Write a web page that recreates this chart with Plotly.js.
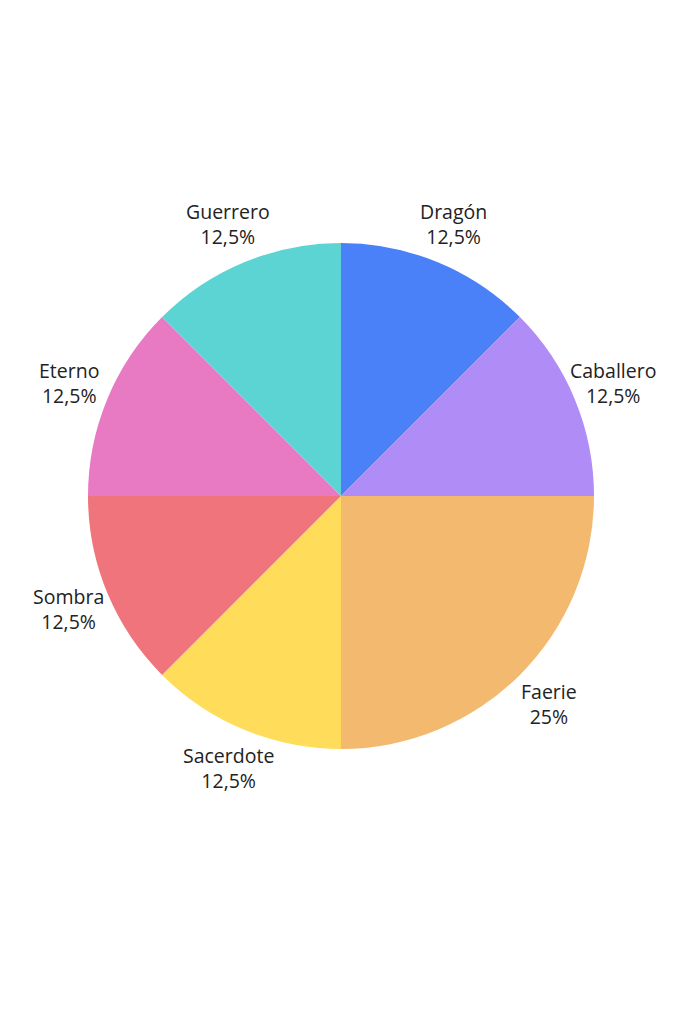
<!DOCTYPE html>
<html>
<head>
<meta charset="utf-8">
<script src="https://cdn.plot.ly/plotly-3.0.1.min.js"></script>
<style>html,body{margin:0;padding:0;background:#fff;}#chart{width:682px;height:1024px;}</style>
</head>
<body>
<div id="chart"></div>
<script>
const labels = ["Dragón", "Caballero", "Faerie", "Sacerdote", "Sombra", "Eterno", "Guerrero"];
const values = [1, 1, 2, 1, 1, 1, 1];
const colors = ["#4a80f8", "#b08cf6", "#f3b96e", "#ffdd5a", "#ef747b", "#e879c3", "#5cd4d4"];

const W = 682, H = 1024;
const margin = {l: 88, r: 88, t: 100, b: 132};
const plotW = W - margin.l - margin.r;
const plotH = H - margin.t - margin.b;
const R = Math.min(plotW, plotH) / 2;
const labelDist = R * 1.165;

const total = values.reduce((a, b) => a + b, 0);
const annotations = [];
let cum = 0;
values.forEach((v, i) => {
  const mid = (cum + v / 2) / total * 2 * Math.PI; // clockwise from 12 o'clock
  cum += v;
  const dx = labelDist * Math.sin(mid) / plotW;
  const dy = labelDist * Math.cos(mid) / plotH;
  const pct = Math.round(v / total * 1000) / 10;
  annotations.push({
    xref: "paper", yref: "paper",
    x: 0.5 + dx, y: 0.5 + dy,
    xanchor: "center", yanchor: "middle",
    showarrow: false,
    text: labels[i] + "<br>" + String(pct).replace(".", ",") + "%",
    font: {family: "Open Sans", size: 19.5, color: "#222"}
  });
});

Plotly.newPlot("chart", [{
  type: "pie",
  labels: labels,
  values: values,
  sort: false,
  direction: "clockwise",
  rotation: 0,
  marker: {colors: colors, line: {width: 0}},
  textinfo: "none",
  hoverinfo: "none",
  showlegend: false,
  automargin: false
}], {
  width: W,
  height: H,
  separators: ",.",
  margin: margin,
  paper_bgcolor: "#fff",
  font: {family: "Open Sans", size: 19.5, color: "#222"},
  showlegend: false,
  annotations: annotations
}, {displayModeBar: false, staticPlot: true});
</script>
</body>
</html>
